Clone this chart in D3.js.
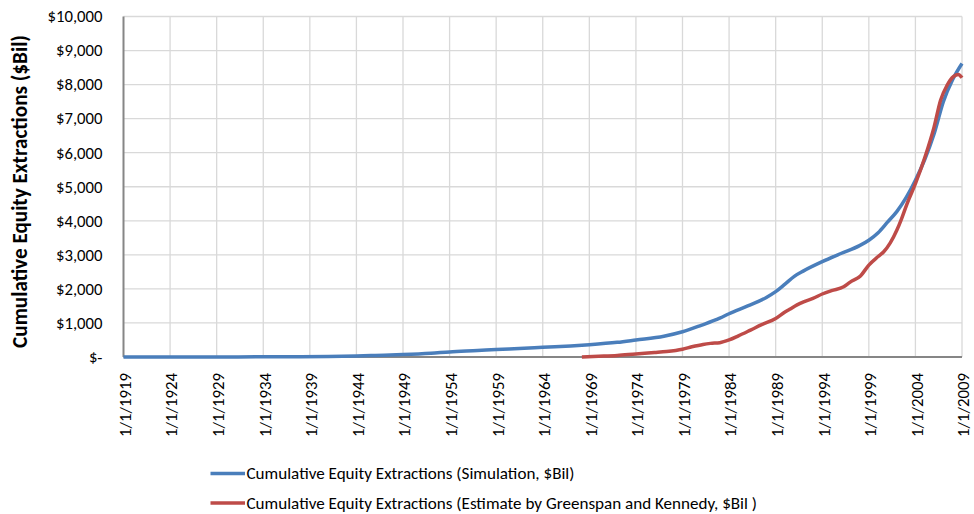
<!DOCTYPE html>
<html>
<head>
<meta charset="utf-8">
<script src="https://cdn.jsdelivr.net/npm/d3@7"></script>
<style>
  body { margin: 0; background: #fff; }
  svg { font-family: Carlito, Calibri, "Open Sans", sans-serif; }
</style>
</head>
<body>
<div id="chart"></div>
<script>
const FRAME_WIDTH = 974;
const FRAME_HEIGHT = 514;
const MARGINS = {left: 123.5, right: 12, top: 16.5, bottom: 157};

const VIS_WIDTH = FRAME_WIDTH - MARGINS.left - MARGINS.right;
const VIS_HEIGHT = FRAME_HEIGHT - MARGINS.top - MARGINS.bottom;

// simulation series (decimal year, $Bil)
const SIM_YEARS = [1919, 1925, 1930, 1935, 1938, 1941, 1944, 1946, 1949, 1952, 1954, 1957, 1959, 1962, 1964,
  1967, 1969, 1972, 1974, 1977, 1979, 1981, 1983, 1984, 1986, 1988, 1989, 1990, 1991, 1992, 1994, 1996,
  1998, 1999, 2000, 2001, 2002, 2003, 2004, 2005, 2006, 2007, 2008, 2009];
const SIM_VALUES = [0, 0, 2, 5, 10, 18, 30, 45, 70, 110, 150, 190, 220, 255, 285,
  325, 360, 430, 500, 610, 740, 930, 1140, 1270, 1500, 1750, 1920, 2140, 2370, 2530, 2800, 3040,
  3270, 3430, 3650, 3960, 4270, 4680, 5190, 5800, 6550, 7500, 8150, 8620];

// Greenspan & Kennedy estimate
const GK_YEARS = [1968.2, 1970, 1972, 1974, 1976, 1977.3, 1979, 1980, 1981.2, 1982, 1983, 1984, 1985, 1986.3,
  1987.5, 1989, 1990, 1990.5, 1991.3, 1992, 1993, 1994, 1995, 1996.3, 1997, 1998.1, 1999, 2000, 2000.6,
  2001.3, 2002, 2002.5, 2003.1, 2004, 2005, 2006, 2006.7, 2007.4, 2008.1, 2008.6, 2009];
const GK_VALUES = [0, 20, 45, 90, 130, 160, 230, 300, 370, 400, 420, 500, 620, 790,
  950, 1130, 1320, 1400, 1530, 1620, 1720, 1850, 1950, 2060, 2200, 2380, 2700, 2950, 3090,
  3350, 3720, 4050, 4500, 5090, 5850, 6750, 7540, 7980, 8240, 8300, 8200];

const X_TICKS = [1919, 1924, 1929, 1934, 1939, 1944, 1949, 1954, 1959, 1964, 1969, 1974, 1979, 1984, 1989, 1994, 1999, 2004, 2009];
const Y_TICKS = [0, 1000, 2000, 3000, 4000, 5000, 6000, 7000, 8000, 9000, 10000];

const SERIES_NAMES = ["Cumulative Equity Extractions (Simulation, $Bil)",
  "Cumulative Equity Extractions (Estimate by Greenspan and Kennedy, $Bil )"];
const COLORS = ["#4a7ebb", "#be4b48"];

const X_SCALE = d3.scaleLinear().domain([1919, 2009]).range([0, VIS_WIDTH]);
const Y_SCALE = d3.scaleLinear().domain([0, 10000]).range([VIS_HEIGHT, 0]);

const FRAME = d3.select("#chart").append("svg")
  .attr("width", FRAME_WIDTH)
  .attr("height", FRAME_HEIGHT);

// pick a font size so a sample string has the width seen in the picture
function fitSize(sample, target, weight) {
  const t = FRAME.append("text").attr("font-size", "100px")
    .attr("font-weight", weight || "normal").text(sample);
  const w = t.node().getComputedTextLength();
  t.remove();
  return 100 * target / w;
}

const TICK_Y_SIZE = fitSize("$10,000", 55);
const TICK_X_SIZE = fitSize("1/1/1919", 64);
const TITLE_SIZE = fitSize("Cumulative Equity Extractions ($Bil)", 313, "bold");
const LEGEND_SIZE = fitSize(SERIES_NAMES[1], 511);

const G = FRAME.append("g")
  .attr("transform", "translate(" + MARGINS.left + "," + MARGINS.top + ")");

// gridlines
G.append("g").selectAll("line").data(Y_TICKS.slice(1)).enter().append("line")
  .attr("x1", 0).attr("x2", VIS_WIDTH)
  .attr("y1", d => Y_SCALE(d)).attr("y2", d => Y_SCALE(d))
  .attr("stroke", "#d9d9d9").attr("stroke-width", 1.3);
G.append("g").selectAll("line").data(X_TICKS.slice(1)).enter().append("line")
  .attr("x1", d => X_SCALE(d)).attr("x2", d => X_SCALE(d))
  .attr("y1", 0).attr("y2", VIS_HEIGHT)
  .attr("stroke", "#d9d9d9").attr("stroke-width", 1.3);

// axes lines
G.append("line").attr("x1", 0).attr("x2", 0).attr("y1", 0).attr("y2", VIS_HEIGHT)
  .attr("stroke", "#868686").attr("stroke-width", 2);
G.append("line").attr("x1", 0).attr("x2", VIS_WIDTH).attr("y1", VIS_HEIGHT).attr("y2", VIS_HEIGHT)
  .attr("stroke", "#868686").attr("stroke-width", 2);

// y tick labels
G.append("g").selectAll("text").data(Y_TICKS).enter().append("text")
  .attr("x", -21)
  .attr("y", d => Y_SCALE(d))
  .attr("dy", "0.35em")
  .attr("text-anchor", "end")
  .attr("font-size", TICK_Y_SIZE + "px")
  .attr("fill", "#000")
  .text(d => d === 0 ? "$-" : "$" + d3.format(",")(d));

// x tick labels (rotated)
G.append("g").selectAll("text").data(X_TICKS).enter().append("text")
  .attr("transform", d => "translate(" + (X_SCALE(d) + 1.5) + "," + (VIS_HEIGHT + 16) + ") rotate(-90)")
  .attr("dy", "0.35em")
  .attr("text-anchor", "end")
  .attr("font-size", TICK_X_SIZE + "px")
  .attr("fill", "#000")
  .text(d => "1/1/" + d);

// y axis title
FRAME.append("text")
  .attr("transform", "translate(20,191.5) rotate(-90)")
  .attr("text-anchor", "middle")
  .attr("dy", "0.35em")
  .attr("font-size", TITLE_SIZE + "px")
  .attr("font-weight", "bold")
  .text("Cumulative Equity Extractions ($Bil)");

// lines
const line = d3.line()
  .x(d => X_SCALE(d[0]))
  .y(d => Y_SCALE(d[1]))
  .curve(d3.curveMonotoneX);

const simData = SIM_YEARS.map((y, i) => [y, SIM_VALUES[i]]);
const gkData = GK_YEARS.map((y, i) => [y, GK_VALUES[i]]);

G.append("path").datum(simData)
  .attr("d", line).attr("fill", "none")
  .attr("stroke", COLORS[0]).attr("stroke-width", 3.5);
G.append("path").datum(gkData)
  .attr("d", line).attr("fill", "none")
  .attr("stroke", COLORS[1]).attr("stroke-width", 3.5);

// legend
const LEGEND = FRAME.append("g");
SERIES_NAMES.forEach((name, i) => {
  const yy = 473.5 + i * 29.5;
  LEGEND.append("line").attr("x1", 210.5).attr("x2", 245).attr("y1", yy).attr("y2", yy)
    .attr("stroke", COLORS[i]).attr("stroke-width", 3.5);
  LEGEND.append("text").attr("x", 246.5).attr("y", yy).attr("dy", "0.35em")
    .attr("font-size", LEGEND_SIZE + "px").text(name);
});
</script>
</body>
</html>
